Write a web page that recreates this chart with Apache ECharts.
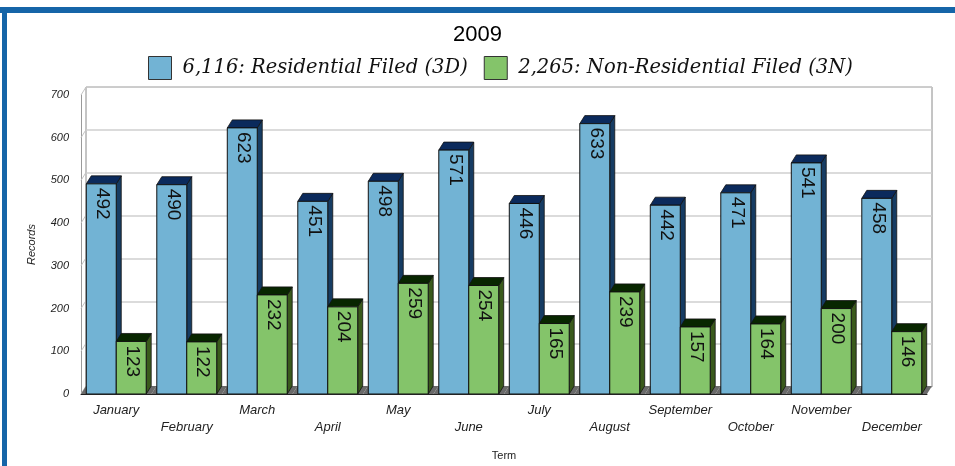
<!DOCTYPE html>
<html>
<head>
<meta charset="utf-8">
<script src="https://cdn.jsdelivr.net/npm/echarts@6/dist/echarts.min.js"></script>
<style>
  html, body { margin:0; padding:0; background:#fff; }
  #chart { width:955px; height:466px; }
</style>
</head>
<body>
<div id="chart"></div>
<script>
var months = ['January','February','March','April','May','June','July','August','September','October','November','December'];
var residential = [492, 490, 623, 451, 498, 571, 446, 633, 442, 471, 541, 458];
var nonResidential = [123, 122, 232, 204, 259, 254, 165, 239, 157, 164, 200, 146];
var yTicks = [0, 100, 200, 300, 400, 500, 600, 700];
var seriesNames = ['6,116: Residential Filed (3D)', '2,265: Non-Residential Filed (3N)'];

(function(){
  var c = echarts.init(document.getElementById('chart'));
  var DX = 5, DY = 8;      // depth of the 3d look
  var sans = '"Liberation Sans", Arial, sans-serif';

  var styles = [
    { front:'#72b3d4', top:'#0b2a5c', side:'#163c63' },
    { front:'#84c46a', top:'#082600', side:'#3a5a1c' }
  ];

  function barRenderer(which, values) {
    return function(params, api) {
      var idx = api.value(0), val = api.value(1);
      var band = api.size([1, 0])[0];
      var base = api.coord([idx, 0]);
      var cx = base[0], by = base[1];
      var ty = api.coord([idx, val])[1];
      var w = band * 0.425;
      var x0 = which === 0 ? cx - w : cx;
      var x1 = x0 + w;
      var s = styles[which];
      var kids = [];
      if (which === 0) {
        var l = cx - band / 2, r = cx + band / 2;
        kids.push({ type:'polygon', shape:{ points:[[l, by], [r, by], [r + DX, by - DY], [l + DX, by - DY]] },
          style:{ fill:'#6a6a6a' } });
      }
      kids.push({ type:'polygon', shape:{ points:[[x1, ty], [x1 + DX, ty - DY], [x1 + DX, by - DY], [x1, by]] },
        style:{ fill:s.side, stroke:'#111', lineWidth:0.8 } });
      kids.push({ type:'polygon', shape:{ points:[[x0, ty], [x0 + DX, ty - DY], [x1 + DX, ty - DY], [x1, ty]] },
        style:{ fill:s.top, stroke:'#111', lineWidth:0.8 } });
      kids.push({ type:'rect', shape:{ x:x0, y:ty, width:w, height:by - ty },
        style:{ fill:s.front, stroke:'#111', lineWidth:1 } });
      kids.push({ type:'text', x:(x0 + x1) / 2 + 1, y:ty + 4, rotation:-Math.PI / 2,
        style:{ text:String(val), fill:'#111', font:'19px ' + sans, align:'left', verticalAlign:'middle' } });
      return { type:'group', children:kids };
    };
  }

  c.setOption({
    backgroundColor:'#fff',
    animation:false,
    title:{ text:'2009', left:'center', top:19,
      textStyle:{ fontSize:22, fontWeight:'normal', color:'#000', fontFamily:sans } },
    legend:{
      top:51, left:143, itemWidth:23, itemHeight:23, itemGap:16,
      icon:'rect',
      data:[
        { name:seriesNames[0], itemStyle:{ color:styles[0].front, borderColor:'#333', borderWidth:1 } },
        { name:seriesNames[1], itemStyle:{ color:styles[1].front, borderColor:'#333', borderWidth:1 } }
      ],
      textStyle:{ fontFamily:'"DejaVu Serif", serif', fontStyle:'italic', fontSize:19.5, color:'#111', padding:[0, 0, 0, 6] }
    },
    graphic:[
      { type:'rect', shape:{ x:0, y:7, width:955, height:6 }, style:{ fill:'#1565a8' } },
      { type:'rect', shape:{ x:2, y:7, width:5, height:459 }, style:{ fill:'#1565a8' } }
    ],
    grid:[
      { left:81, right:28, top:95, bottom:71 },
      { left:86, right:23, top:87, bottom:79, show:true, borderColor:'#8a8a8a', borderWidth:1, z:0 }
    ],
    xAxis:[
      { type:'category', gridIndex:0, data:months,
        name:'Term', nameLocation:'middle', nameGap:56,
        nameTextStyle:{ fontSize:11, color:'#222', fontFamily:sans },
        axisLine:{ lineStyle:{ color:'#222', width:1 } },
        axisTick:{ alignWithLabel:true, length:9, lineStyle:{ color:'#555' } },
        axisLabel:{ interval:0, margin:8, fontSize:13, fontStyle:'italic', color:'#222', fontFamily:sans, lineHeight:17,
          formatter:function(v, i){ return i % 2 ? '\n' + v : v; } },
        z:5 },
      { type:'value', gridIndex:1, show:false }
    ],
    yAxis:[
      { type:'value', gridIndex:0, min:0, max:700, interval:100,
        name:'Records', nameLocation:'middle', nameGap:44,
        nameTextStyle:{ fontSize:11, fontStyle:'italic', color:'#222', fontFamily:sans },
        axisLine:{ show:true, lineStyle:{ color:'#9a9a9a' } },
        axisTick:{ show:false },
        axisLabel:{ margin:12, fontSize:11, fontStyle:'italic', color:'#222', fontFamily:sans },
        splitLine:{ show:false } },
      { type:'value', gridIndex:1, min:0, max:700, interval:100,
        axisLine:{ show:false }, axisTick:{ show:false }, axisLabel:{ show:false },
        splitLine:{ lineStyle:{ color:'#cfcfcf', width:1.5 } } }
    ],
    series:[
      { type:'custom', name:'wall', xAxisIndex:0, yAxisIndex:0, silent:true,
        data:yTicks.map(function(v){ return [0, v]; }),
        renderItem:function(params, api){
          var band = api.size([1, 0])[0];
          var p = api.coord([0, api.value(1)]);
          var l = p[0] - band / 2;
          return { type:'line', shape:{ x1:l, y1:p[1], x2:l + DX, y2:p[1] - DY },
            style:{ stroke:'#c4c4c4', lineWidth:1 } };
        } },
      { type:'custom', name:seriesNames[0], xAxisIndex:0, yAxisIndex:0,
        itemStyle:{ color:styles[0].front },
        data:residential.map(function(v, i){ return [i, v]; }),
        encode:{ x:0, y:1 },
        renderItem:barRenderer(0, residential) },
      { type:'custom', name:seriesNames[1], xAxisIndex:0, yAxisIndex:0,
        itemStyle:{ color:styles[1].front },
        data:nonResidential.map(function(v, i){ return [i, v]; }),
        encode:{ x:0, y:1 },
        renderItem:barRenderer(1, nonResidential) }
    ]
  });
})();
</script>
</body>
</html>
